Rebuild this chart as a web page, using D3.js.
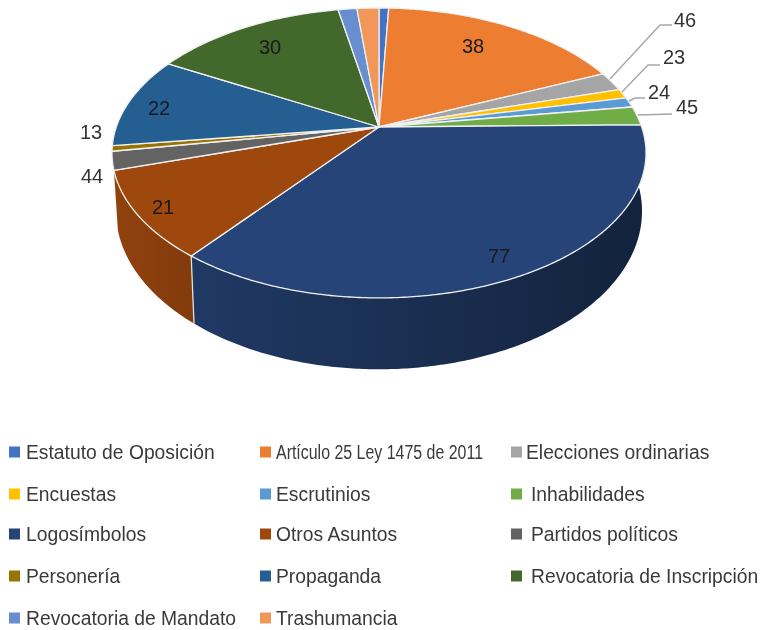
<!DOCTYPE html>
<html>
<head>
<meta charset="utf-8">
<script src="https://cdn.jsdelivr.net/npm/d3@7"></script>
<style>
	html, body { margin: 0; padding: 0; background: #fff; }
	svg { display: block; filter: blur(0.6px); }
	text { font-family: "Liberation Sans", Arial, sans-serif; }
</style>
</head>
<body>
<div id="chart"></div>
<script>
"use strict";

// =============== DATA ===============
var categories = ["Estatuto de Oposición", "Artículo 25 Ley 1475 de 2011", "Elecciones ordinarias",
	"Encuestas", "Escrutinios", "Inhabilidades",
	"Logosímbolos", "Otros Asuntos", "Partidos políticos",
	"Personería", "Propaganda", "Revocatoria de Inscripción",
	"Revocatoria de Mandato", "Trashumancia"];
// slice sizes
var sliceValues = [1.5, 38, 4.6, 2.3, 2.4, 4.5, 77, 21, 4.4, 1.3, 22, 30, 2.9, 3.4];
// printed labels (the small ones lost their decimal mark in the original)
var sliceLabels = ["", "38", "46", "23", "24", "45", "77", "21", "44", "13", "22", "30", "", ""];
var sliceColors = ["#4472c4", "#ed7d31", "#a5a5a5", "#ffc000", "#5b9bd5", "#70ad47",
	"#264478", "#9e480e", "#636363", "#997300", "#255e91", "#43682b", "#698ed0", "#f1975a"];

// =============== LAYOUT ===============
var width = 764, height = 630;
var centre = {x: 379, y: 127},
	perspective = 0.179, // how much bigger the near rim is
	radiusX = 262.7,
	radiusY = 140.3;
var base = {dy: 56, scaleX: 0.985, scaleY: 1.09};

// label anchor and optional leader, by slice index
var labelLayout = {
	1: {x: 473, y: 46},
	2: {x: 685, y: 20, leader: [[610, 79], [660, 25], [672, 25]]},
	3: {x: 674, y: 57, leader: [[622, 92], [648, 65], [660, 65]]},
	4: {x: 659, y: 92, leader: [[629, 101], [635, 98], [645, 98]]},
	5: {x: 687, y: 107, leader: [[638, 115], [672, 114]]},
	6: {x: 499, y: 256},
	7: {x: 163, y: 207},
	8: {x: 92, y: 176},
	9: {x: 91, y: 132},
	10: {x: 159, y: 108},
	11: {x: 270, y: 47}
};
var legendColX = [9, 260, 511],
	legendTextX = [26, 276, 531],
	legendRowY = [452, 494, 534, 576, 618];

// =============== PROJECTION ===============
function topPoint(a){
	var u = Math.sin(a), v = -Math.cos(a), w = 1 - perspective*v;
	return [centre.x + radiusX*u/w, centre.y + radiusY*v/w];
}
function basePoint(a){
	var p = topPoint(a);
	return [centre.x + (p[0]-centre.x)*base.scaleX, centre.y + base.dy + (p[1]-centre.y)*base.scaleY];
}
function arcPoints(fn, a0, a1){
	var n = Math.max(2, Math.ceil((a1-a0)/0.01));
	return d3.range(n+1).map(function(i){ return fn(a0 + (a1-a0)*i/n); });
}

var line = d3.line();
var color = d3.scaleOrdinal().domain(categories).range(sliceColors);
var arcs = d3.pie().sort(null)(sliceValues);

var svg = d3.select("#chart").append("svg")
	.attr("width", width)
	.attr("height", height);
var defs = svg.append("defs");

// =============== SIDE WALL ===============
// only the two big front slices show a wall, the rest stays behind the top face
[arcs[6], arcs[7]].forEach(function(d){
	var a0 = d.startAngle,
		a1 = d.endAngle,
		c = d3.color(sliceColors[d.index]),
		id = "side" + d.index,
		left = topPoint(a1)[0], right = topPoint(a0)[0];
	var grad = defs.append("linearGradient")
		.attr("id", id)
		.attr("gradientUnits", "userSpaceOnUse")
		.attr("x1", left).attr("x2", right)
		.attr("y1", 0).attr("y2", 0);
	grad.append("stop").attr("offset", 0).attr("stop-color", c.darker(d.index == 6 ? 0.5 : 0.25));
	grad.append("stop").attr("offset", 1).attr("stop-color", c.darker(d.index == 6 ? 1.9 : 0.55));
	svg.append("path")
		.attr("d", line(arcPoints(topPoint, a0, a1).concat(arcPoints(basePoint, a0, a1).reverse())) + "Z")
		.attr("fill", "url(#" + id + ")")
		.attr("stroke", "none");
});

// seam between the two big walls
var seam = arcs[6].endAngle;
svg.append("path")
	.attr("d", line([topPoint(seam), basePoint(seam)]))
	.attr("stroke", "#e4e0da")
	.attr("stroke-width", 1.3)
	.attr("fill", "none");

// =============== TOP FACE ===============
svg.append("g").selectAll("path")
	.data(arcs)
	.join("path")
	.attr("d", function(d){
		return line([[centre.x, centre.y]].concat(arcPoints(topPoint, d.startAngle, d.endAngle))) + "Z";
	})
	.attr("fill", function(d, i){ return color(categories[i]); })
	.attr("stroke", "#f0f0f0")
	.attr("stroke-width", 1.3)
	.attr("stroke-linejoin", "round");

// =============== LABELS ===============
var labelled = arcs.filter(function(d){ return sliceLabels[d.index] != ""; });

svg.append("g").selectAll("path")
	.data(labelled.filter(function(d){ return labelLayout[d.index].leader; }))
	.join("path")
	.attr("d", function(d){ return line(labelLayout[d.index].leader); })
	.attr("fill", "none")
	.attr("stroke", "#a6a6a6")
	.attr("stroke-width", 1.4);

svg.append("g").selectAll("text")
	.data(labelled)
	.join("text")
	.attr("x", function(d){ return labelLayout[d.index].x; })
	.attr("y", function(d){ return labelLayout[d.index].y; })
	.attr("dy", "0.36em")
	.attr("text-anchor", "middle")
	.attr("font-size", 20)
	.attr("fill", function(d){ return d.index >= 6 && d.index != 8 && d.index != 9 || d.index == 1 ? "#1a1a1a" : "#333"; })
	.text(function(d){ return sliceLabels[d.index]; });

// =============== LEGEND ===============
var legend = svg.append("g").selectAll("g")
	.data(categories)
	.join("g")
	.attr("transform", function(d, i){ return "translate(0," + legendRowY[Math.floor(i/3)] + ")"; });

legend.append("rect")
	.attr("x", function(d, i){ return legendColX[i%3]; })
	.attr("y", -5.5)
	.attr("width", 11)
	.attr("height", 11)
	.attr("fill", function(d){ return color(d); });

legend.append("text")
	.attr("x", function(d, i){ return i == 2 ? 526 : legendTextX[i%3]; })
	.attr("dy", "0.36em")
	.attr("font-size", 19.3)
	.attr("fill", "#3a3a3a")
	.attr("textLength", function(d, i){ return i == 1 ? 207 : null; })
	.attr("lengthAdjust", function(d, i){ return i == 1 ? "spacingAndGlyphs" : null; })
	.text(function(d){ return d; });
</script>
</body>
</html>
